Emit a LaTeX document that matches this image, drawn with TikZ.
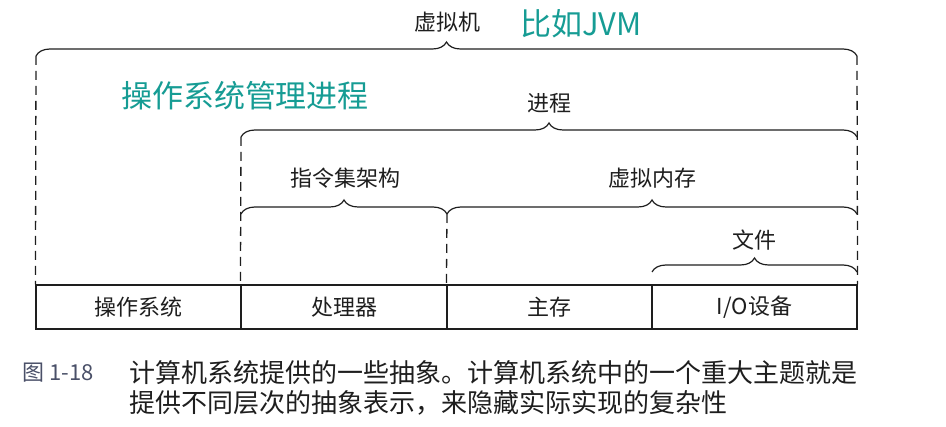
\documentclass[tikz,border=0pt]{standalone}
\usepackage{fontspec}
\setmainfont{Noto Sans CJK SC}
\usetikzlibrary{decorations.pathreplacing}
\definecolor{tealnote}{RGB}{22,156,148}
\definecolor{figlabel}{RGB}{74,80,104}
\definecolor{ink}{RGB}{30,30,30}

\tikzset{
	lbl/.style={ink, font=\fontsize{22}{22}\selectfont},
	note/.style={tealnote, font=\fontsize{31}{31}\selectfont},
	cell/.style={draw=ink, line width=1.1pt, minimum height=44pt, inner sep=0pt, font=\fontsize{22}{22}\selectfont, ink},
	brc/.style={draw=ink, line width=1.2pt, decorate, decoration={brace, amplitude=14pt}},
	dsh/.style={draw=ink, line width=1.3pt, dash pattern=on 9pt off 6pt}
}

\begin{document}
\begin{tikzpicture}[x=1pt, y=-1pt]
	\useasboundingbox (0,0) rectangle (946,427);
	
	% bottom row
	\node[cell, minimum width=205pt] (os) at (138.5,307) {操作系统};
	\node[cell, minimum width=206pt] (cpu) at (344,307) {处理器};
	\node[cell, minimum width=205pt] (mem) at (549.5,307) {主存};
	\node[cell, minimum width=205pt] (io) at (754.5,307) {I/O设备};
	
	% brace ends
	\coordinate (vmL) at (36,56); \coordinate (vmR) at (857,56);
	\coordinate (prL) at (241,137); \coordinate (prR) at (857,137);
	\coordinate (isL) at (241,214); \coordinate (isR) at (447,214);
	\coordinate (vsL) at (447,214); \coordinate (vsR) at (857,214);
	\coordinate (fiL) at (652,272); \coordinate (fiR) at (857,272);
	
	\draw[brc] (vmL) -- (vmR);
	\draw[brc] (prL) -- (prR);
	\draw[brc] (isL) -- (isR);
	\draw[brc] (vsL) -- (vsR);
	\draw[brc] (fiL) -- (fiR);
	
	\draw[dsh] (vmL) -- (os.north west);
	\draw[dsh] (vmR) -- (io.north east);
	\draw[dsh] (prL) -- (cpu.north west);
	\draw[dsh] (isR) -- (mem.north west);
	
	\node[lbl] (vmT) at (447,22) {虚拟机};
	\node[lbl] (prT) at (549,103) {进程};
	\node[lbl] (isT) at (345,178) {指令集架构};
	\node[lbl] (vsT) at (652,178) {虚拟内存};
	\node[lbl] (fiT) at (754,240) {文件};
	
	\node[note] (jvm) at (581,24) {比如JVM};
	\node[note] (osp) at (245,96) {操作系统管理进程};
	
	% caption
	\node[figlabel, font=\fontsize{22}{22}\selectfont, anchor=west] (fig) at (19,373) {图 1-18};
	\node[ink, font=\fontsize{26}{26}\selectfont, anchor=west] (cap1) at (126,373) {计算机系统提供的一些抽象。计算机系统中的一个重大主题就是};
	\node[ink, font=\fontsize{26}{26}\selectfont, anchor=west] (cap2) at (126,403) {提供不同层次的抽象表示，来隐藏实际实现的复杂性};
\end{tikzpicture}
\end{document}
